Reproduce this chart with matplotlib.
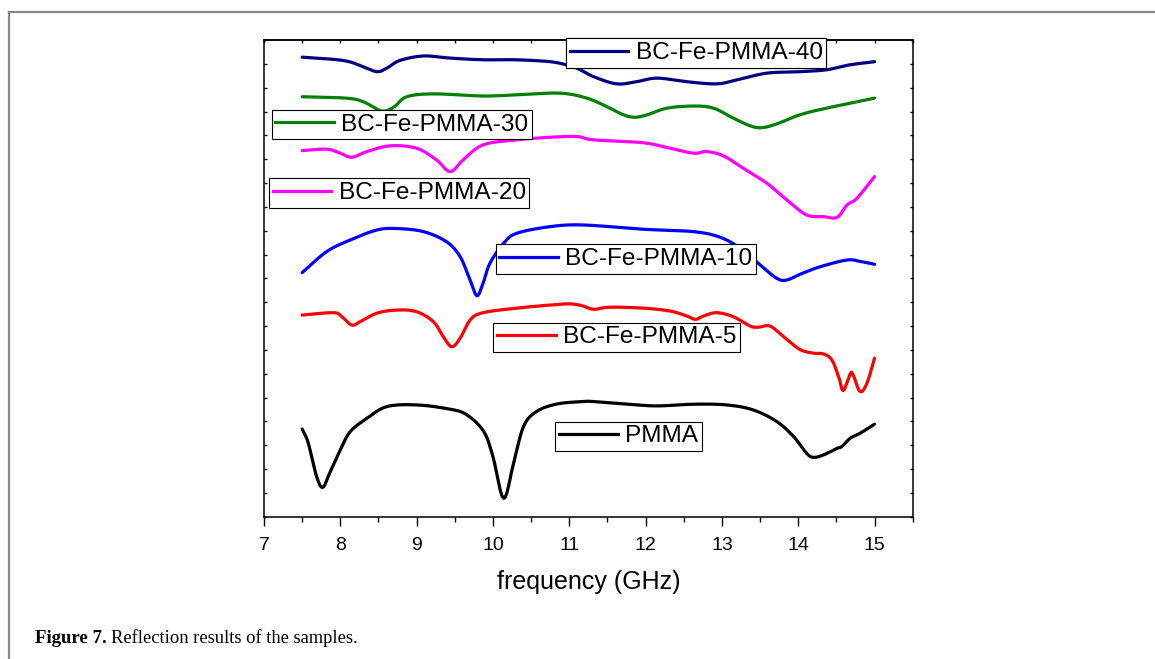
import matplotlib
matplotlib.use("Agg")
import matplotlib.pyplot as plt
from matplotlib.lines import Line2D
import numpy as np

plt.rcParams['font.family'] = ['Liberation Sans', 'DejaVu Sans']

# ---- data (frequency in GHz, reflection in arbitrary offset units) ----
pmma_x = [7.5, 7.58, 7.69, 7.77, 7.86, 8.0, 8.13, 8.35, 8.61, 9.0, 9.44, 9.66, 9.88, 10.0,
          10.14, 10.27, 10.40, 10.57, 10.84, 11.18, 11.32, 11.88, 12.19, 12.63, 13.06, 13.41,
          13.72, 13.94, 14.11, 14.20, 14.33, 14.51, 14.57, 14.68, 14.81, 15.0]
pmma_y = [3.68, 3.09, 1.68, 1.23, 1.83, 2.80, 3.57, 4.13, 4.62, 4.69, 4.51, 4.27, 3.57, 2.52,
          0.77, 2.24, 3.78, 4.41, 4.73, 4.83, 4.83, 4.69, 4.65, 4.72, 4.69, 4.48,
          3.99, 3.36, 2.66, 2.49, 2.59, 2.87, 2.94, 3.29, 3.50, 3.88]

fe5_x = [7.5, 7.91, 8.02, 8.15, 8.26, 8.48, 8.74, 9.0, 9.22, 9.35, 9.46, 9.57, 9.70, 9.87,
         10.31, 10.75, 11.01, 11.18, 11.32, 11.53, 11.97, 12.32, 12.54, 12.65, 12.76, 12.93,
         13.15, 13.37, 13.48, 13.63, 13.81, 14.02, 14.2, 14.33, 14.44, 14.53, 14.59, 14.68,
         14.72, 14.81, 14.90, 15.0]
fe5_y = [8.46, 8.56, 8.39, 8.04, 8.18, 8.54, 8.67, 8.60, 8.18, 7.55, 7.13, 7.49, 8.25, 8.56,
         8.75, 8.88, 8.93, 8.84, 8.70, 8.79, 8.75, 8.63, 8.42, 8.28, 8.42, 8.56,
         8.39, 8.0, 7.95, 8.0, 7.55, 7.02, 6.86, 6.83, 6.58, 5.87, 5.29, 5.99,
         5.95, 5.25, 5.60, 6.65]

fe10_x = [7.5, 7.82, 8.13, 8.48, 8.74, 9.09, 9.39, 9.57, 9.70, 9.79, 9.87, 9.96, 10.14,
          10.31, 10.75, 11.18, 11.97, 12.63, 12.98, 13.24, 13.50, 13.72, 13.85, 14.03, 14.29,
          14.64, 14.81, 15.0]
fe10_y = [10.24, 11.12, 11.61, 12.03, 12.09, 11.96, 11.54, 10.91, 9.93, 9.27, 9.79, 10.63, 11.47,
          11.89, 12.17, 12.24, 12.06, 11.96, 11.72, 11.26, 10.56, 10.0, 9.93, 10.18, 10.49,
          10.77, 10.71, 10.59]

fe20_x = [7.5, 7.82, 8.0, 8.15, 8.35, 8.65, 9.0, 9.26, 9.44, 9.61, 9.87, 10.31, 10.75, 11.10,
          11.32, 11.97, 12.32, 12.63, 12.80, 13.02, 13.28, 13.59, 13.85, 14.11, 14.33, 14.51,
          14.64, 14.77, 15.0]
fe20_y = [15.36, 15.42, 15.25, 15.08, 15.32, 15.56, 15.46, 14.97, 14.48, 14.97, 15.60, 15.81,
          15.92, 15.95, 15.81, 15.69, 15.46, 15.25, 15.32, 15.14, 14.62, 13.99, 13.29, 12.66,
          12.59, 12.56, 13.08, 13.36, 14.27]

fe30_x = [7.5, 8.08, 8.30, 8.50, 8.60, 8.72, 8.87, 9.22, 9.87, 10.31, 10.88, 11.23, 11.49,
          11.71, 11.86, 12.02, 12.28, 12.63, 12.89, 13.15, 13.37, 13.52, 13.72, 14.02, 14.37, 15.0]
fe30_y = [17.62, 17.56, 17.41, 17.07, 17.03, 17.23, 17.62, 17.74, 17.65, 17.70, 17.77, 17.56,
          17.21, 16.86, 16.76, 16.86, 17.14, 17.23, 17.14, 16.72, 16.40, 16.32, 16.48, 16.86,
          17.14, 17.56]

fe40_x = [7.5, 8.04, 8.30, 8.48, 8.61, 8.78, 9.09, 9.44, 9.87, 10.31, 10.75, 10.97, 11.10,
          11.32, 11.62, 11.88, 12.15, 12.54, 12.93, 13.20, 13.59, 14.02, 14.37, 14.68, 15.0]
fe40_y = [19.28, 19.14, 18.88, 18.67, 18.82, 19.14, 19.33, 19.24, 19.17, 19.17, 19.09, 18.95,
          18.82, 18.46, 18.16, 18.25, 18.40, 18.25, 18.16, 18.33, 18.61, 18.67, 18.75, 18.96, 19.09]

labels = ["PMMA", "BC-Fe-PMMA-5", "BC-Fe-PMMA-10", "BC-Fe-PMMA-20", "BC-Fe-PMMA-30", "BC-Fe-PMMA-40"]
colors = ["#000000", "#FF0000", "#0000FF", "#FF00FF", "#008000", "#000080"]
xs = [pmma_x, fe5_x, fe10_x, fe20_x, fe30_x, fe40_x]
ys = [pmma_y, fe5_y, fe10_y, fe20_y, fe30_y, fe40_y]

x_ticks = [7, 8, 9, 10, 11, 12, 13, 14, 15]

# legend box upper-left corners (pixels, from top-left of figure)
W, H = 1155, 659
legend_pos = [(555.3, 421.7), (493.3, 322.7), (495.7, 244.3), (269.0, 178.3), (271.7, 110.0), (566.0, 38.3)]


def smooth(x, y, n=6):
    # Catmull-Rom smoothing through the read points
    x = np.asarray(x, float); y = np.asarray(y, float)
    px = np.concatenate([[2*x[0]-x[1]], x, [2*x[-1]-x[-2]]])
    py = np.concatenate([[2*y[0]-y[1]], y, [2*y[-1]-y[-2]]])
    ox, oy = [], []
    for i in range(1, len(px)-2):
        t = np.linspace(0, 1, n, endpoint=False)
        for arr, out in ((px, ox), (py, oy)):
            p0, p1, p2, p3 = arr[i-1], arr[i], arr[i+1], arr[i+2]
            out.extend(0.5*((2*p1) + (-p0+p2)*t + (2*p0-5*p1+4*p2-p3)*t**2 + (-p0+3*p1-3*p2+p3)*t**3))
    ox.append(x[-1]); oy.append(y[-1])
    return np.array(ox), np.array(oy)


fig = plt.figure(figsize=(W/100, H/100), dpi=100)
ax = fig.add_axes([264/W, 1-516.7/H, (912.7-264)/W, (516.7-40)/H])

lines = []
for x, y, c in zip(xs, ys, colors):
    sx, sy = smooth(x, y)
    ln, = ax.plot(sx, sy, color=c, lw=2.3, solid_capstyle='round')
    lines.append(ln)

ax.set_xlim(7, 15.5)
ax.set_ylim(0, 20)
ax.set_xticks(x_ticks)
ax.set_xticks(np.arange(7.5, 15.6, 1.0), minor=True)
ax.set_yticks(np.arange(0, 21, 1))
ax.set_yticklabels([])
ax.tick_params(axis='x', which='major', direction='out', length=6.3, width=1.0,
               labelsize=14, pad=8.5, top=False)
ax.tick_params(axis='x', which='minor', direction='out', length=3.8, width=1.0, top=False)
ax.tick_params(axis='y', which='major', direction='in', length=2.5, width=1.0,
               left=True, right=True)
ax.set_xlabel("frequency (GHz)", fontsize=18, labelpad=11.5)
for s in ax.spines.values():
    s.set_linewidth(1.1)

secax = ax.secondary_xaxis('top')
secax.set_xticks(np.arange(7, 15.6, 0.5))
secax.set_xticklabels([])
secax.tick_params(direction='in', length=2.5, width=1.0)
secax.spines['top'].set_linewidth(1.1)

for ln, lab, (lx, ly) in zip(lines, labels, legend_pos):
    h = Line2D([], [], color=ln.get_color(), lw=2.3)
    leg = ax.legend([h], [lab], loc='upper left', bbox_to_anchor=(lx/W, 1-ly/H),
                    bbox_transform=fig.transFigure, fontsize=17.6, frameon=True,
                    fancybox=False, shadow=False, borderpad=0.15, borderaxespad=0,
                    handlelength=2.4, handletextpad=0.3, framealpha=1)
    leg.get_frame().set_edgecolor('black')
    leg.get_frame().set_linewidth(0.8)
    ax.add_artist(leg)

# figure frame (grey top and left rules)
fig.add_artist(Line2D([9/W, 1], [1-12/H, 1-12/H], transform=fig.transFigure, color='#8a8a8a', lw=1.6))
fig.add_artist(Line2D([9/W, 9/W], [0, 1-12/H], transform=fig.transFigure, color='#8a8a8a', lw=1.6))

# caption
t1 = fig.text(35/W, 1-643/H, "Figure 7.", fontsize=13.5, fontweight='bold',
              family=['Liberation Serif', 'DejaVu Serif'], va='baseline', ha='left')
fig.canvas.draw()
bb = t1.get_window_extent()
fig.text((bb.x1 + 4)/W, 1-643/H, "Reflection results of the samples.", fontsize=13.3,
         family=['Liberation Serif', 'DejaVu Serif'], va='baseline', ha='left')

fig.savefig("out.png", dpi=100)
